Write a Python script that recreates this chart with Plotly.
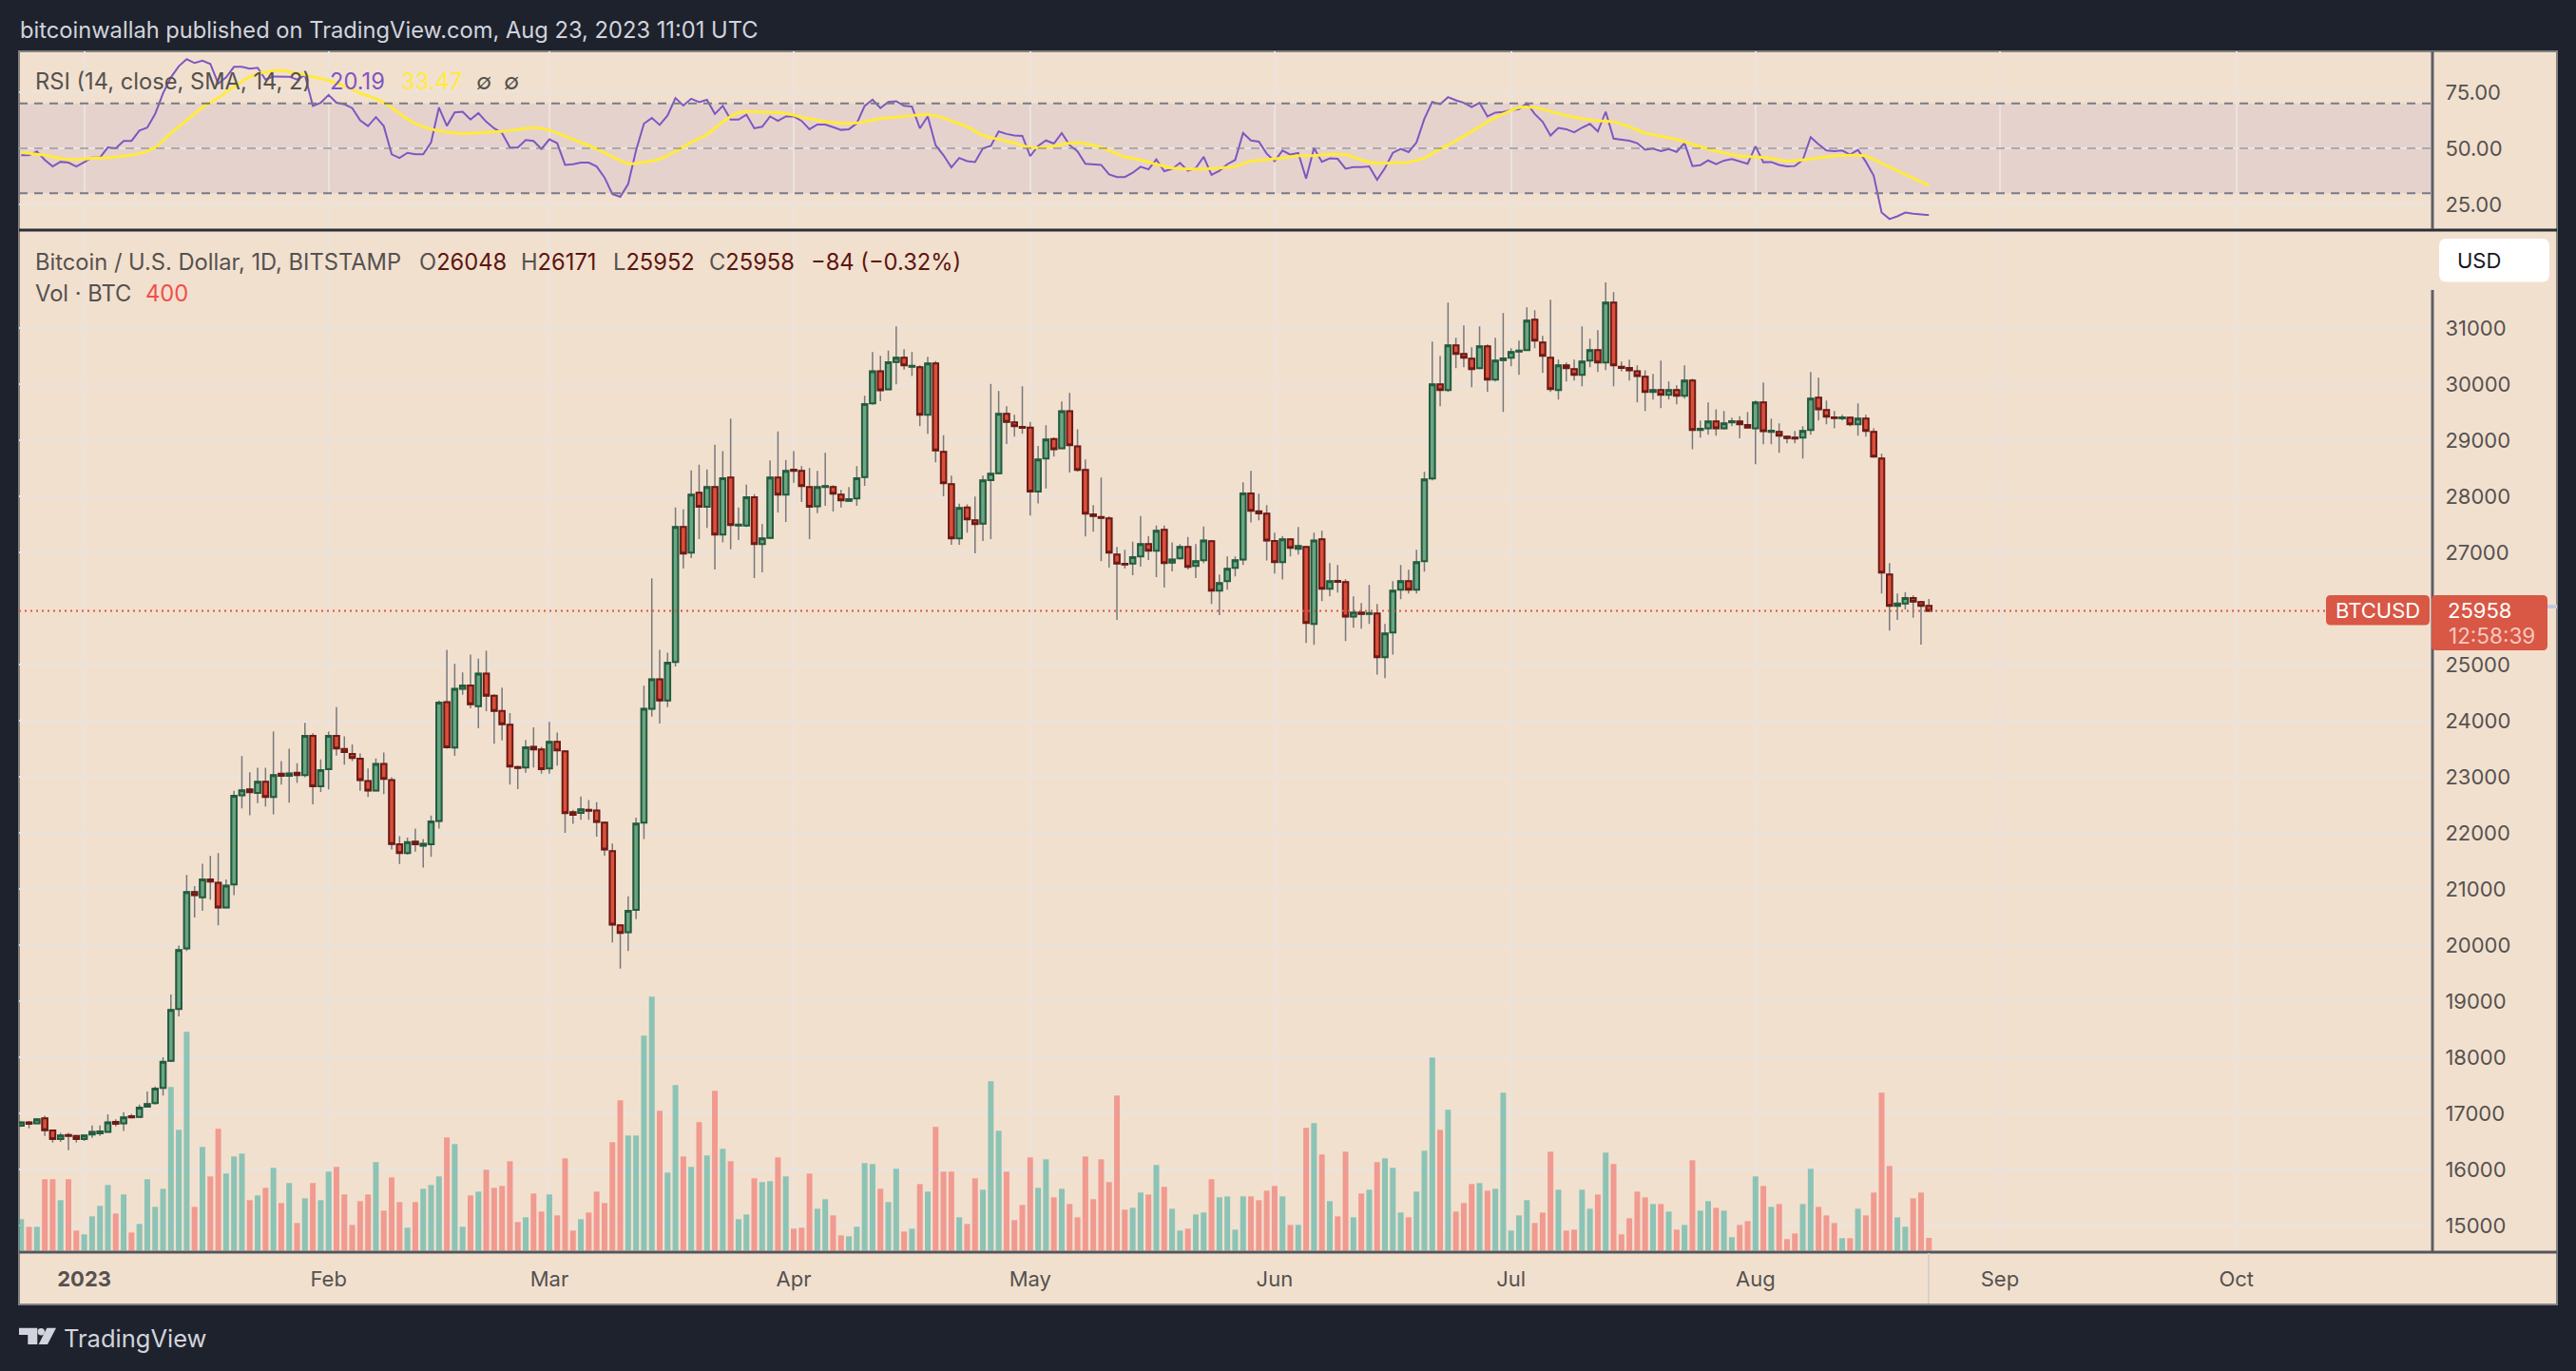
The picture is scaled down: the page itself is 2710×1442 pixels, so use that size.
import pandas as pd
import plotly.graph_objects as go

W, H = 2710, 1442

# daily candles, 24 Dec 2022 to 23 Aug 2023
dates = pd.date_range("2022-12-24", "2023-08-23", freq="D")

opens = [16780, 16840, 16822, 16910, 16694, 16541, 16613, 16597, 16541, 16621, 16645, 16669, 16846, 16822, 16950, 16934,
         17118, 17183, 17455, 17936, 18860, 19942, 20945, 20850, 21170, 21110, 20670, 21080, 22670, 22775, 22710, 22910,
         22640, 23055, 23015, 23070, 23030, 23727, 22830, 23134, 23727, 23495, 23407, 23320, 22925, 22755, 23230, 22940,
         21795, 21640, 21845, 21770, 21795, 22210, 24330, 23519, 24567, 24629, 24258, 24837, 24444, 24174, 23928, 23175,
         23166, 23535, 23487, 23150, 23623, 23455, 22370, 22355, 22410, 22400, 22180, 21675, 20350, 20230, 20625, 22180,
         24213, 24736, 24359, 25045, 27452, 26994, 28062, 27813, 28164, 27316, 28333, 27480, 27480, 27983, 27147, 27260,
         28333, 28028, 28474, 28452, 28164, 27824, 28164, 28164, 28028, 27920, 27960, 28344, 29655, 30231, 29909, 30395,
         30469, 30310, 30299, 29452, 30367, 28791, 28215, 27249, 27802, 27570, 27514, 28288, 28412, 29469, 29316, 29237,
         29226, 28085, 28672, 29022, 28858, 29519, 28892, 28469, 27678, 27632, 27605, 26960, 26796, 26802, 26926, 27147,
         27028, 27401, 26819, 26892, 27096, 26757, 26859, 27198, 26316, 26486, 26723, 26875, 28051, 27734, 27689, 27203,
         26825, 27231, 27062, 27096, 25723, 27231, 26350, 26491, 26469, 25858, 25926, 25904, 25909, 25130, 25570, 26333,
         26486, 26333, 26842, 28316, 29994, 29893, 30689, 30537, 30452, 30282, 30672, 30079, 30429, 30469, 30582, 30605,
         31147, 30740, 30469, 29893, 30333, 30265, 30164, 30418, 30605, 30384, 31452, 30311, 30288, 30231, 30130, 29859,
         29893, 29808, 29893, 29791, 30062, 29181, 29214, 29333, 29214, 29316, 29333, 29271, 29214, 29672, 29147, 29147,
         29062, 29045, 29045, 29181, 29757, 29537, 29407, 29390, 29401, 29282, 29384, 29147, 28672, 26604, 26045, 26090,
         26186, 26113, 26048]
highs = [16860, 16862, 16910, 16958, 16710, 16653, 16653, 16613, 16613, 16782, 16782, 16982, 16894, 17022, 16990, 17158,
         17390, 17480, 18000, 19120, 19990, 21250, 21050, 21450, 21590, 21640, 21170, 22750, 23370, 23080, 23160, 23160,
         23810, 23280, 23500, 23240, 23960, 23775, 23310, 23807, 24240, 23720, 23575, 23415, 23150, 23325, 23430, 22990,
         21940, 21915, 22075, 21890, 22310, 24360, 25264, 25011, 24860, 25180, 25107, 25247, 24472, 24590, 24134, 23200,
         23655, 23880, 23535, 23980, 23790, 23470, 22410, 22650, 22585, 22545, 22205, 21810, 20350, 20870, 22270, 24623,
         26537, 25264, 25213, 27802, 27768, 28463, 28565, 28480, 28920, 28807, 29384, 27802, 28209, 28039, 27503, 28638,
         29158, 28650, 28807, 28537, 28503, 28452, 28774, 28198, 28113, 28164, 28537, 29791, 30571, 30503, 30599, 31028,
         30621, 30571, 30333, 30486, 30412, 29090, 28367, 27870, 27858, 27994, 28367, 30006, 29876, 29604, 29452, 29960,
         29327, 28898, 29265, 29050, 29689, 29842, 29197, 28655, 27842, 28333, 27644, 27096, 27045, 27192, 27650, 27294,
         27480, 27480, 27180, 27147, 27277, 27147, 27463, 27220, 26604, 26926, 26926, 28248, 28452, 28045, 27842, 27350,
         27294, 27240, 27452, 27113, 27350, 27384, 26808, 26774, 26520, 26214, 26096, 26418, 26079, 25723, 26486, 26774,
         26689, 27045, 28435, 30757, 30503, 31452, 30825, 31045, 30655, 31028, 30706, 30825, 31266, 30638, 30774, 31367,
         31316, 30859, 31503, 30435, 30384, 30435, 31028, 30808, 30960, 31815, 31638, 30401, 30435, 30333, 30248, 30181,
         30418, 30045, 29977, 30333, 30096, 29350, 29672, 29553, 29520, 29401, 29429, 29503, 29706, 30028, 29384, 29299,
         29079, 29164, 29248, 30215, 30113, 29706, 29520, 29452, 29418, 29655, 29452, 29214, 28757, 26808, 26265, 26293,
         26231, 26135, 26171]
lows = [16760, 16733, 16810, 16597, 16477, 16493, 16341, 16477, 16509, 16565, 16597, 16669, 16766, 16685, 16910, 16918,
        17118, 17158, 17319, 17920, 18730, 19895, 20490, 20610, 20810, 20350, 20670, 20890, 22435, 22315, 22530, 22470,
        22330, 22860, 22540, 22890, 22990, 22510, 22730, 22775, 23375, 23215, 23280, 22750, 22640, 22745, 22690, 21705,
        21445, 21610, 21665, 21380, 21570, 22075, 23500, 23374, 24460, 24219, 23865, 24168, 23590, 23647, 22860, 22780,
        23070, 23165, 23055, 23055, 23200, 22000, 22160, 22235, 22235, 21930, 21595, 20045, 19580, 19895, 20460, 21890,
        24073, 23950, 24241, 24966, 26712, 26898, 27237, 27435, 26695, 27180, 27056, 27220, 27452, 26542, 26644, 27260,
        27712, 27542, 28243, 27898, 27237, 27700, 27830, 27729, 27802, 27904, 27830, 28186, 29633, 29695, 29903, 29994,
        30260, 30146, 29248, 29113, 28604, 28000, 27135, 27135, 27350, 26983, 27203, 27237, 28390, 28932, 29062, 29113,
        27655, 27875, 28141, 28706, 28847, 28424, 28440, 27282, 27367, 26842, 26729, 25796, 26712, 26593, 26745, 26864,
        26559, 26373, 26661, 26875, 26695, 26542, 26808, 26079, 25881, 26333, 26570, 26774, 27536, 27570, 26858, 26621,
        26519, 26926, 26960, 25384, 25350, 26130, 26214, 26282, 25418, 25655, 25638, 25723, 24824, 24757, 25180, 26164,
        26265, 26265, 26655, 28282, 29604, 29859, 30282, 30299, 29943, 30265, 29859, 30045, 29503, 30316, 30164, 30593,
        30638, 30198, 29859, 29723, 30045, 30062, 29960, 30299, 30215, 30249, 29960, 30231, 30062, 29672, 29520, 29723,
        29571, 29723, 29638, 29740, 28841, 29045, 29096, 29079, 29197, 29248, 29034, 29214, 28571, 28926, 28926, 28774,
        28943, 28943, 28672, 29096, 29350, 29282, 29214, 29350, 29248, 29079, 29062, 28690, 26265, 25604, 25796, 25983,
        25836, 25356, 25952]
closes = [16840, 16815, 16894, 16700, 16541, 16605, 16597, 16541, 16605, 16669, 16677, 16838, 16814, 16926, 16926, 17102,
          17166, 17439, 17920, 18842, 19910, 20945, 20890, 21170, 21130, 20670, 21060, 22660, 22760, 22725, 22910, 22640,
          23030, 23015, 23060, 23030, 23727, 22830, 23118, 23727, 23503, 23440, 23335, 22940, 22755, 23230, 22960, 21800,
          21640, 21835, 21795, 21805, 22205, 24320, 23527, 24567, 24629, 24292, 24837, 24444, 24174, 23938, 23180, 23158,
          23527, 23487, 23134, 23623, 23470, 22350, 22320, 22420, 22395, 22195, 21705, 20365, 20215, 20610, 22165, 24213,
          24736, 24359, 25034, 27452, 26977, 28028, 27813, 28164, 27316, 28322, 27486, 27497, 27983, 27147, 27248, 28333,
          28028, 28452, 28452, 28181, 27813, 28164, 28181, 28045, 27926, 27949, 28322, 29644, 30231, 29892, 30390, 30469,
          30333, 30327, 29452, 30367, 28819, 28232, 27249, 27791, 27587, 27503, 28282, 28401, 29469, 29327, 29248, 29220,
          28085, 28655, 29011, 28841, 29519, 28909, 28469, 27689, 27650, 27616, 26994, 26802, 26785, 26915, 27147, 27028,
          27384, 26808, 26875, 27096, 26740, 26842, 27214, 26316, 26452, 26706, 26859, 28051, 27740, 27695, 27214, 26825,
          27231, 27079, 27113, 25740, 27214, 26350, 26486, 26474, 25858, 25926, 25904, 25921, 25130, 25553, 26316, 26486,
          26333, 26825, 28299, 29994, 29893, 30689, 30537, 30469, 30265, 30672, 30079, 30418, 30458, 30571, 30599, 31130,
          30774, 30503, 29910, 30333, 30282, 30164, 30401, 30605, 30384, 31452, 30333, 30288, 30248, 30146, 29859, 29893,
          29808, 29893, 29791, 30062, 29181, 29203, 29333, 29214, 29299, 29339, 29282, 29226, 29672, 29163, 29169, 29079,
          29039, 29028, 29164, 29740, 29553, 29418, 29396, 29407, 29282, 29384, 29164, 28706, 26638, 26045, 26090, 26186,
          26124, 26045, 25958]

# volume, BTC
volumes = [990, 750, 750, 2250, 2250, 1590, 2250, 630, 510, 1080, 1410, 2070, 1170, 1770, 570, 840,
           2250, 1380, 1950, 5160, 3810, 6900, 1380, 3270, 2340, 3840, 2430, 2970, 3060, 1590, 1740, 1980,
           2610, 1500, 2130, 870, 1650, 2130, 1590, 2490, 2640, 1770, 810, 1560, 1770, 2790, 1260, 2310,
           1530, 720, 1530, 1950, 2070, 2340, 3570, 3360, 750, 1740, 1860, 2550, 1980, 2040, 2820, 900,
           1050, 1800, 1230, 1770, 1110, 2910, 630, 990, 1200, 1860, 1500, 3420, 4740, 3630, 3630, 6780,
           8010, 4410, 2460, 5220, 2970, 2640, 4050, 3000, 5040, 3210, 2820, 990, 1140, 2280, 2160, 2190,
           2940, 2340, 690, 720, 2430, 1320, 1620, 1110, 480, 450, 750, 2760, 2730, 1950, 1530, 2580,
           600, 690, 2100, 1860, 3900, 2490, 2490, 1050, 840, 2280, 1920, 5340, 3780, 2490, 960, 1440,
           2940, 1980, 2880, 1680, 1950, 1470, 1050, 2970, 1620, 2880, 2160, 4890, 1290, 1350, 1830, 1770,
           2700, 2010, 1320, 630, 690, 1140, 1200, 2250, 1680, 1710, 660, 1710, 1710, 1590, 1890, 2040,
           1710, 810, 810, 3870, 4020, 3030, 1560, 1080, 3120, 1050, 1800, 1920, 2790, 2910, 2610, 1200,
           1050, 1860, 3150, 6090, 3810, 4440, 1230, 1500, 2100, 2130, 1890, 1950, 4980, 630, 1110, 1590,
           870, 1200, 3120, 1920, 630, 660, 1920, 1320, 1770, 3090, 2730, 510, 1020, 1860, 1680, 1470,
           1470, 1230, 660, 810, 2850, 1260, 1560, 1350, 1260, 420, 810, 930, 2340, 2040, 1380, 1470,
           360, 540, 1470, 2580, 1380, 1110, 870, 390, 390, 1320, 1110, 1830, 4980, 2670, 1050, 750,
           1650, 1830, 400]

# RSI (14), one value per candle
rsi = [46.9, 46.9, 48.6, 44.8, 41.9, 44.0, 43.6, 41.9, 43.8, 45.9, 45.9, 50.4, 50.0, 53.3, 53.3, 57.9,
       59.2, 65.3, 74.5, 81.6, 86.6, 89.7, 88.0, 89.0, 87.6, 78.8, 81.6, 86.3, 86.3, 85.5, 85.9, 80.6,
       82.0, 82.0, 81.9, 80.6, 82.6, 68.9, 70.3, 73.8, 70.3, 69.6, 67.9, 62.5, 59.9, 63.9, 59.9, 47.3,
       45.7, 48.0, 47.3, 47.3, 52.6, 68.2, 60.0, 66.0, 66.3, 62.8, 65.7, 61.8, 58.9, 56.8, 50.4, 50.3,
       53.7, 53.3, 49.7, 54.0, 52.3, 42.6, 42.9, 43.6, 43.6, 41.9, 37.0, 29.6, 28.4, 34.1, 49.0, 61.0,
       63.5, 60.4, 64.6, 72.4, 69.1, 72.1, 70.6, 71.6, 65.3, 68.9, 62.8, 62.8, 65.0, 58.9, 59.6, 64.2,
       62.2, 64.2, 64.2, 62.2, 58.5, 60.6, 60.6, 59.4, 58.2, 58.5, 61.1, 68.9, 71.7, 67.9, 70.7, 71.0,
       68.9, 68.6, 58.9, 64.2, 51.4, 46.9, 41.5, 45.7, 44.3, 43.9, 50.0, 51.1, 57.5, 56.4, 55.7, 55.5,
       46.5, 51.1, 53.5, 52.1, 56.8, 51.4, 48.6, 43.1, 42.9, 42.6, 38.4, 37.2, 37.2, 39.1, 41.8, 40.6,
       45.0, 39.8, 40.8, 43.5, 40.0, 41.2, 46.2, 38.2, 40.0, 42.9, 44.8, 56.8, 53.5, 53.0, 47.6, 44.3,
       49.0, 47.2, 47.9, 36.5, 50.1, 44.0, 45.5, 45.3, 40.9, 41.6, 41.6, 41.9, 36.0, 41.2, 48.0, 49.7,
       48.3, 52.6, 63.2, 70.7, 69.6, 72.8, 71.4, 70.3, 68.4, 70.3, 64.2, 65.9, 66.2, 67.0, 67.4, 70.0,
       65.3, 61.8, 55.7, 59.1, 58.5, 57.1, 59.2, 60.9, 57.5, 66.3, 54.3, 54.0, 53.4, 52.3, 49.4, 49.9,
       48.7, 49.7, 48.4, 52.3, 42.1, 42.5, 44.6, 42.9, 44.5, 45.2, 44.0, 43.1, 50.9, 43.8, 43.9, 42.6,
       41.9, 42.1, 44.8, 55.0, 51.8, 49.0, 48.7, 49.0, 47.2, 49.3, 44.0, 37.8, 21.4, 18.5, 19.7, 21.4,
       20.9, 20.5, 20.19]

# RSI moving average, read every few candles
sma_dates = ["2022-12-24", "2022-12-27", "2022-12-30", "2023-01-02", "2023-01-05", "2023-01-08"] + \
            [d.strftime("%Y-%m-%d") for d in pd.date_range("2023-01-10", "2023-04-20", freq="2D")] + \
            [d.strftime("%Y-%m-%d") for d in pd.date_range("2023-04-21", "2023-08-23", freq="2D")]
sma_vals = [48.2, 46.9, 45.0, 45.5, 46.2, 47.6,
            50.4, 56.8, 62.5, 68.2, 72.4, 77.4, 81.9, 84.0, 84.6, 83.5, 81.9, 80.2, 77.8, 74.5, 72.1, 68.2, 62.9, 59.6,
            57.8, 56.8, 56.7, 57.2, 57.5, 58.4, 59.2, 58.1, 55.4, 52.6, 49.7, 46.2, 43.1, 43.8, 45.2, 48.6, 52.6, 56.1,
            61.8, 66.0, 66.3, 66.0, 65.6, 63.9, 62.5, 61.5, 61.1, 61.8, 63.2, 63.9, 64.6, 65.0, 63.5, 62.2, 59.6, 55.7, 54.0,
            52.3, 50.4, 50.4, 51.8, 52.4, 51.4, 49.0, 46.2, 44.8, 42.9, 41.2, 40.8, 40.8, 41.2, 41.9, 44.3, 44.9, 45.7,
            46.7, 46.7, 47.3, 47.2, 44.8, 43.3, 43.5, 43.8, 45.7, 49.7, 53.3, 57.5, 61.8, 65.3, 68.2, 68.2, 66.4, 64.6,
            63.2, 62.3, 61.8, 59.6, 56.8, 55.4, 54.0, 51.8, 49.7, 48.0, 46.5, 46.2, 45.5, 44.3, 44.8, 45.7, 46.6, 46.9,
            46.6, 43.3, 40.0, 36.7, 33.47]

price_ticks = [15000, 16000, 17000, 18000, 19000, 20000, 21000, 22000, 23000, 24000, 25000, 27000, 28000, 29000, 30000, 31000]
rsi_ticks = [25, 50, 75]
rsi_tick_text = ["25.00", "50.00", "75.00"]
month_ticks = ["2023-01-01", "2023-02-01", "2023-03-01", "2023-04-01", "2023-05-01", "2023-06-01",
               "2023-07-01", "2023-08-01", "2023-09-01", "2023-10-01"]
month_text = ["<b>2023</b>", "Feb", "Mar", "Apr", "May", "Jun", "Jul", "Aug", "Sep", "Oct"]
last_price = closes[-1]

DARK = "#1e222d"
CREAM = "#f2e0cf"
GRID = "#e9e3de"
TEXT = "#55524f"
FONT = "Inter"


def px(x):
    return x / W


def py(y):
    return 1 - y / H


shapes = []
annotations = []


def rect(x0, y0, x1, y1, fill, line=None, lw=0, layer="above"):
    shapes.append(dict(type="rect", xref="paper", yref="paper", x0=px(x0), x1=px(x1), y0=py(y0), y1=py(y1),
                       fillcolor=fill, line=dict(color=line or fill, width=lw), layer=layer))


def round_rect(x0, y0, x1, y1, fill, r=5):
    pts = [("M", x0 + r, y0), ("L", x1 - r, y0), ("Q", x1, y0, x1, y0 + r), ("L", x1, y1 - r), ("Q", x1, y1, x1 - r, y1),
           ("L", x0 + r, y1), ("Q", x0, y1, x0, y1 - r), ("L", x0, y0 + r), ("Q", x0, y0, x0 + r, y0)]
    path = ""
    for p in pts:
        coords = [f"{px(p[i]):.5f},{py(p[i + 1]):.5f}" for i in range(1, len(p), 2)]
        path += p[0] + " ".join(coords) + " "
    shapes.append(dict(type="path", xref="paper", yref="paper", path=path + "Z", fillcolor=fill, line=dict(width=0)))


def line(x0, y0, x1, y1, color, width, dash="solid", layer="above"):
    shapes.append(dict(type="line", xref="paper", yref="paper", x0=px(x0), x1=px(x1), y0=py(y0), y1=py(y1),
                       line=dict(color=color, width=width, dash=dash), layer=layer))


def poly(points, fill):
    path = "M" + " L".join(f"{px(a):.5f},{py(b):.5f}" for a, b in points) + " Z"
    shapes.append(dict(type="path", xref="paper", yref="paper", path=path, fillcolor=fill, line=dict(width=0)))


def label(x, y, text, color=TEXT, size=23.7, anchor="left"):
    # annotations carry about 2px of padding on the left
    annotations.append(dict(x=px(x - 2), y=py(y), xref="paper", yref="paper", text=text, showarrow=False,
                            xanchor=anchor, yanchor="middle", align="left",
                            font=dict(family=FONT, size=size, color=color)))


# panel backgrounds and frames
rect(20, 54, 2690, 1372, CREAM, "#84827f", 2, layer="below")

fig = go.Figure()

vol_colors = ["rgba(38,166,154,0.5)" if c >= o else "rgba(239,83,80,0.5)" for o, c in zip(opens, closes)]
fig.add_trace(go.Bar(x=dates, y=volumes, marker=dict(color=vol_colors, line=dict(width=0)), yaxis="y3", xaxis="x"))

# wicks are grey, bodies have a darker outline, so two candle traces on top of each other
fig.add_trace(go.Candlestick(x=dates, open=opens, high=highs, low=lows, close=closes, whiskerwidth=0,
                             increasing=dict(line=dict(color="#77797c", width=1.5), fillcolor="rgba(0,0,0,0)"),
                             decreasing=dict(line=dict(color="#77797c", width=1.5), fillcolor="rgba(0,0,0,0)")))
body_top = [max(o, c) for o, c in zip(opens, closes)]
body_low = [min(o, c) for o, c in zip(opens, closes)]
fig.add_trace(go.Candlestick(x=dates, open=opens, high=body_top, low=body_low, close=closes, whiskerwidth=0,
                             increasing=dict(line=dict(color="#225c3e", width=2), fillcolor="#6ba583"),
                             decreasing=dict(line=dict(color="#6e1a14", width=2), fillcolor="#d9503c")))

fig.add_trace(go.Scatter(x=dates, y=rsi, mode="lines", line=dict(color="#7e57c2", width=2), xaxis="x2", yaxis="y2"))
fig.add_trace(go.Scatter(x=sma_dates, y=sma_vals, mode="lines", line=dict(color="#ffeb3b", width=3, shape="spline", smoothing=0.6),
                         xaxis="x2", yaxis="y2"))

# RSI band and levels
shapes.append(dict(type="rect", xref="paper", yref="y2", x0=px(20), x1=px(2558), y0=30, y1=70,
                   fillcolor="rgba(126,87,194,0.10)", line=dict(width=0), layer="below"))
for level, color in [(70, "#787b86"), (50, "rgba(120,123,134,0.55)"), (30, "#787b86")]:
    shapes.append(dict(type="line", xref="paper", yref="y2", x0=px(20), x1=px(2558), y0=level, y1=level,
                       line=dict(color=color, width=2, dash="9px,7px"), layer="above"))

# last price line
shapes.append(dict(type="line", xref="paper", yref="y", x0=px(20), x1=px(2447), y0=last_price, y1=last_price,
                   line=dict(color="#d95745", width=2, dash="2px,4px"), layer="above"))

# axis lines and separators
line(20, 242, 2690, 242, "#2a2e39", 3)
line(2559, 54, 2559, 241, "#5d5f66", 3)
line(2559, 305, 2559, 1317, "#5d5f66", 3)
line(20, 1317, 2690, 1317, "#55565c", 3)
line(2029, 1318, 2029, 1371, "#d8d0cc", 2)

# price label boxes
round_rect(2447, 626, 2556, 657.5, "#d95745")
round_rect(2558, 626, 2680, 684, "#d95745")
rect(2680, 636, 2690, 640, "#c5c8e0")
round_rect(2566, 251, 2682, 296.5, "#ffffff", 8)

# header and legend text
label(21, 32, "bitcoinwallah published on TradingView.com, Aug 23, 2023 11:01 UTC", "#d1d4dc")
label(37, 86, "RSI (14, close, SMA, 14, 2)")
label(347, 86, "20.19", "#7e57c2")
label(422, 86, "33.47", "#ffeb3b")
label(501, 86, "∅", TEXT)
label(530, 86, "∅", TEXT)
label(37, 275, "Bitcoin / U.S. Dollar, 1D, BITSTAMP")
value_red = "#5c1610"
for x, head, val in [(441, "O", "26048"), (548, "H", "26171"), (645, "L", "25952"), (746, "C", "25958")]:
    label(x, 275, f'<span style="color:{TEXT}">{head}</span>{val}', value_red)
label(853, 275, "−84 (−0.32%)", value_red)
label(37, 308, "Vol · BTC")
label(153, 308, "400", "#f0504a")
label(2585, 274, "USD", "#131722", 22)
label(2457, 642, "BTCUSD", "#ffffff", 22)
label(2575, 642, "25958", "#ffffff", 22)
label(2576, 668, "12:58:39", "#f4c9c0", 22.5)

# logo
poly([(20, 1396.7), (39.3, 1396.7), (39.3, 1414), (29.3, 1414), (29.3, 1404), (20, 1404)], "#d1d4dc")
shapes.append(dict(type="circle", xref="paper", yref="paper", x0=px(39.6), x1=px(47), y0=py(1404.4), y1=py(1397),
                   fillcolor="#d1d4dc", line=dict(width=0)))
poly([(49.3, 1396.7), (59, 1396.7), (50, 1414), (40.7, 1414)], "#d1d4dc")
label(67, 1407, "TradingView", "#d1d4dc", 25.5)

x_range = ["2022-12-23 17:30", "2023-10-25 21:00"]
tick_font = dict(family=FONT, size=22, color=TEXT)

fig.update_layout(
    width=W, height=H, margin=dict(l=0, r=0, t=0, b=0),
    paper_bgcolor=DARK, plot_bgcolor="rgba(0,0,0,0)",
    showlegend=False, hovermode=False, bargap=0.28, boxgap=0.33, boxgroupgap=0, boxmode="overlay",
    shapes=shapes, annotations=annotations,
    xaxis=dict(domain=[px(20), px(2559)], range=x_range, type="date", anchor="y", rangeslider=dict(visible=False),
               tickvals=month_ticks, ticktext=month_text, tickfont=tick_font, ticks="outside", ticklen=9,
               tickcolor="rgba(0,0,0,0)", showgrid=True, gridcolor=GRID, gridwidth=2, zeroline=False),
    xaxis2=dict(domain=[px(20), px(2559)], range=x_range, type="date", anchor="y2", matches="x",
                tickvals=month_ticks, showticklabels=False, ticks="", showgrid=True, gridcolor=GRID, gridwidth=2, zeroline=False),
    yaxis=dict(domain=[py(1317), py(242)], range=[14525, 32746], side="right", anchor="x", tickvals=price_ticks,
               ticktext=[str(p) for p in price_ticks], tickfont=tick_font, ticks="outside", ticklen=8, tickcolor="rgba(0,0,0,0)",
               showgrid=True, gridcolor=GRID, gridwidth=2, zeroline=False),
    yaxis2=dict(domain=[py(242), py(54)], range=[13.56, 93.2], side="right", anchor="x2", tickvals=rsi_ticks, ticktext=rsi_tick_text,
                tickfont=tick_font, ticks="outside", ticklen=8, tickcolor="rgba(0,0,0,0)",
                showgrid=True, gridcolor=GRID, gridwidth=2, zeroline=False),
    yaxis3=dict(domain=[py(1317), py(242)], range=[-50, 32200], overlaying="y", side="left", anchor="x",
                visible=False, showgrid=False, zeroline=False),
)

fig.write_html("out.html", post_script="document.body.style.margin='0';document.body.style.background='#1e222d';",
               config=dict(displayModeBar=False))
